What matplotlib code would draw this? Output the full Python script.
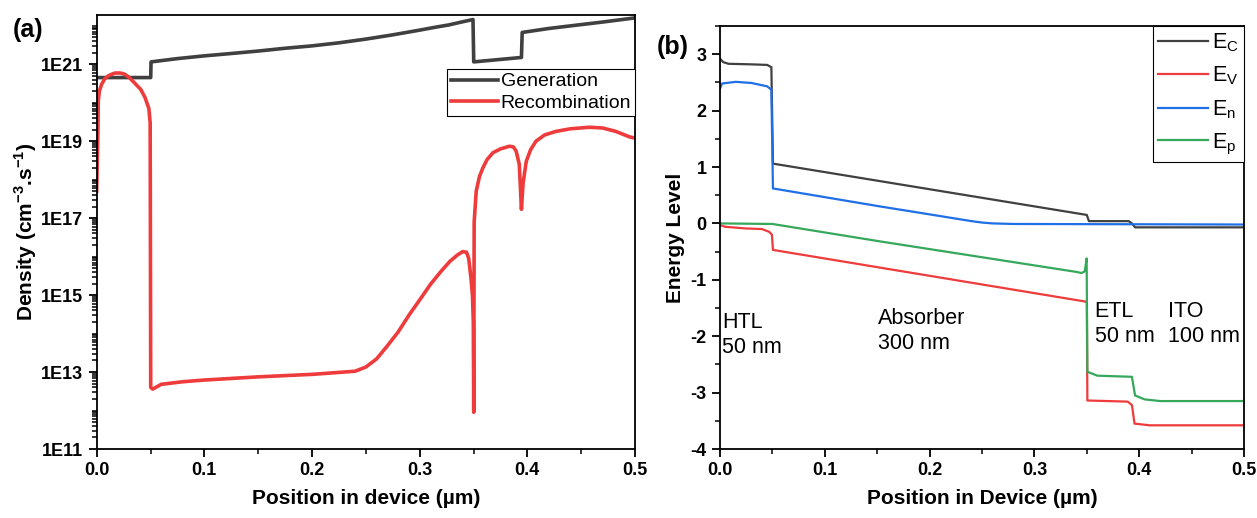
import numpy as np
from matplotlib import pyplot as plt, ticker

plt.rcParams['font.family'] = ['Liberation Sans', 'DejaVu Sans']
plt.rcParams['mathtext.fontset'] = 'custom'
plt.rcParams['mathtext.rm'] = 'Liberation Sans'
plt.rcParams['mathtext.bf'] = 'Liberation Sans:bold'

# ---- panel (a): generation / recombination (cm^-3 s^-1) ----
gen_x = [0.0, 0.0502, 0.0505, 0.075, 0.1, 0.125, 0.15, 0.175, 0.2, 0.225, 0.25, 0.275,
         0.3, 0.315, 0.327, 0.34, 0.3495,
         0.3502, 0.3945, 0.3952, 0.42, 0.441, 0.47, 0.5]
gen_y = [4.5e20, 4.5e20, 1.15e21, 1.4e21, 1.65e21, 1.9e21, 2.2e21, 2.6e21, 3.0e21, 3.6e21, 4.5e21, 5.8e21,
         7.7e21, 9.2e21, 1.05e22, 1.27e22, 1.45e22,
         1.15e21, 1.5e21, 6.7e21, 8.5e21, 1.0e22, 1.25e22, 1.6e22]

rec_x = [0.0, 0.0012, 0.0015, 0.0025, 0.0046, 0.0075, 0.011, 0.014, 0.017, 0.022, 0.026,
         0.03, 0.035, 0.041, 0.045, 0.0485, 0.0497, 0.0502, 0.052, 0.06, 0.08, 0.1, 0.15,
         0.2, 0.24, 0.25, 0.26, 0.27, 0.28, 0.29, 0.3, 0.31, 0.32, 0.328, 0.335, 0.34,
         0.3435, 0.3455, 0.3475, 0.349, 0.3498, 0.3502, 0.3506, 0.3525, 0.3555, 0.3586,
         0.3625, 0.368, 0.375, 0.3834, 0.387, 0.3896, 0.3925, 0.3945, 0.396, 0.399,
         0.403, 0.408, 0.416, 0.4267, 0.44, 0.4577, 0.47, 0.482, 0.4947, 0.5]
rec_y = [5e17, 2.2e19, 1.1e20, 2e20, 3e20, 4.2e20, 5e20, 5.5e20, 5.9e20, 5.9e20, 5.5e20,
         4.6e20, 3.3e20, 2.2e20, 1.35e20, 7e19, 3e19, 4e12, 3.6e12, 4.8e12, 5.6e12, 6.2e12, 7.5e12,
         8.7e12, 1.05e13, 1.35e13, 2.2e13, 4.8e13, 1.1e14, 3e14, 7.5e14, 1.9e15, 4.2e15, 7.5e15, 1.1e16, 1.35e16,
         1.3e16, 9e15, 3e15, 1e15, 2e14, 9e11, 8e16, 5e17, 1.2e18, 2e18,
         3.3e18, 5e18, 6.3e18, 7.4e18, 7.1e18, 5.5e18, 2.5e18, 1.7e17, 8e17, 3e18,
         6e18, 1e19, 1.45e19, 1.8e19, 2.1e19, 2.3e19, 2.2e19, 1.8e19, 1.3e19, 1.2e19]

# ---- panel (b): energy levels ----
ec_x = [0.0, 0.003, 0.008, 0.03, 0.045, 0.049, 0.0505, 0.35, 0.3505, 0.352, 0.39, 0.393, 0.396, 0.5]
ec_y = [2.92, 2.86, 2.83, 2.82, 2.81, 2.77, 1.06, 0.15, 0.12, 0.04, 0.04, 0.0, -0.07, -0.07]

ev_x = [0.0, 0.005, 0.025, 0.04, 0.047, 0.0495, 0.0505, 0.35, 0.3505, 0.389, 0.393, 0.3955, 0.41, 0.5]
ev_y = [-0.03, -0.06, -0.09, -0.1, -0.15, -0.2, -0.47, -1.39, -3.14, -3.16, -3.22, -3.55, -3.58, -3.58]

en_x = [0.0, 0.002, 0.015, 0.03, 0.045, 0.049, 0.0505, 0.153, 0.2, 0.23, 0.24, 0.25, 0.26, 0.28, 0.5]
en_y = [2.39, 2.48, 2.51, 2.49, 2.43, 2.37, 0.62, 0.30, 0.16, 0.07, 0.04, 0.015, 0.0, -0.01, -0.02]

ep_x = [0.0, 0.05, 0.153, 0.34, 0.345, 0.348, 0.3498, 0.3505, 0.36, 0.393, 0.396, 0.405, 0.42, 0.5]
ep_y = [0.0, -0.01, -0.32, -0.86, -0.88, -0.85, -0.62, -2.63, -2.70, -2.72, -3.05, -3.12, -3.15, -3.15]

layer_names = ['HTL', 'Absorber', 'ETL', 'ITO']
layer_thick = ['50 nm', '300 nm', '50 nm', '100 nm']

GRAY = '#404040'
RED = '#ee3b3b'
BLUE = '#1f6fe6'
GREEN = '#36a85c'


def style_axes(ax):
    for sp in ax.spines.values():
        sp.set_linewidth(1.3)
    ax.tick_params(which='major', direction='out', length=6, width=1.3, labelsize=13)
    ax.tick_params(which='minor', direction='out', length=3.5, width=1.1)
    for lab in ax.get_xticklabels() + ax.get_yticklabels():
        lab.set_fontweight('bold')


fig = plt.figure(figsize=(12.57, 5.18), dpi=100)

# (a)
ax1 = fig.add_axes([0.0769, 0.1332, 0.4283, 0.8378])
ax1.semilogy(gen_x, gen_y, color=GRAY, lw=2.6, label='Generation')
ax1.semilogy(rec_x, rec_y, color=RED, lw=2.6, label='Recombination')
ax1.set_xlim(0, 0.5)
ax1.set_ylim(1e11, 1.9e22)
ax1.xaxis.set_major_locator(ticker.MultipleLocator(0.1))
ax1.xaxis.set_minor_locator(ticker.MultipleLocator(0.05))
ax1.xaxis.set_major_formatter(ticker.FormatStrFormatter('%.1f'))
ax1.yaxis.set_major_locator(ticker.FixedLocator([1e11, 1e13, 1e15, 1e17, 1e19, 1e21]))
ax1.yaxis.set_minor_locator(ticker.LogLocator(base=10, subs=np.arange(1, 10), numticks=40))
ax1.yaxis.set_major_formatter(ticker.FuncFormatter(lambda v, _: f'1E{int(round(np.log10(v)))}'))
ax1.yaxis.set_minor_formatter(ticker.NullFormatter())
style_axes(ax1)
ax1.set_xlabel('Position in device (µm)', fontsize=15, fontweight='bold', labelpad=7)
ax1.set_ylabel(r'Density (cm$^{\mathbf{-3}}$.s$^{\mathbf{-1}}$)', fontsize=15, fontweight='bold', labelpad=2)
leg1 = ax1.legend(loc='upper right', bbox_to_anchor=(1.0, 0.876), borderaxespad=0, fontsize=14,
                  handlelength=2.4, handletextpad=0.15, labelspacing=0.2, borderpad=0.2,
                  fancybox=False, framealpha=1, edgecolor='black')
leg1.get_frame().set_linewidth(0.8)
for xp, yp, name, th in zip([0.002, 0.130, 0.353, 0.423], [0.018, 0.018, 0.035, 0.035],
                            layer_names, layer_thick):
    ax1.text(xp, yp, f'{name}\n{th}', transform=ax1.get_yaxis_transform(), ha='left', va='bottom',
             fontsize=15.5, linespacing=1.25)
fig.text(0.022, 0.942, '(a)', fontsize=18, fontweight='bold', ha='center', va='center')

# (b)
ax2 = fig.add_axes([0.5728, 0.1332, 0.4169, 0.8166])
ax2.plot(ec_x, ec_y, color=GRAY, lw=1.6, label=r'E$_\mathregular{C}$')
ax2.plot(ev_x, ev_y, color=RED, lw=1.6, label=r'E$_\mathregular{V}$')
ax2.plot(en_x, en_y, color=BLUE, lw=1.6, label=r'E$_\mathregular{n}$')
ax2.plot(ep_x, ep_y, color=GREEN, lw=1.6, label=r'E$_\mathregular{p}$')
ax2.set_xlim(0, 0.5)
ax2.set_ylim(-4, 3.5)
ax2.xaxis.set_major_locator(ticker.MultipleLocator(0.1))
ax2.xaxis.set_minor_locator(ticker.MultipleLocator(0.05))
ax2.xaxis.set_major_formatter(ticker.FormatStrFormatter('%.1f'))
ax2.yaxis.set_major_locator(ticker.MultipleLocator(1))
ax2.yaxis.set_minor_locator(ticker.MultipleLocator(0.5))
ax2.yaxis.set_major_formatter(ticker.FuncFormatter(lambda v, _: f'{v:.0f}'.replace('\u2212', '-')))
style_axes(ax2)
ax2.set_xlabel('Position in Device (µm)', fontsize=15, fontweight='bold', labelpad=7)
ax2.set_ylabel('Energy Level', fontsize=15, fontweight='bold', labelpad=4)
leg2 = ax2.legend(loc='upper right', bbox_to_anchor=(1.0, 1.0), borderaxespad=0, fontsize=15.5,
                  handlelength=2.3, handletextpad=0.2, labelspacing=0.5, borderpad=0.25,
                  fancybox=False, framealpha=1, edgecolor='black')
leg2.get_frame().set_linewidth(0.8)
for xp, yp, name, th in zip([0.002, 0.151, 0.3575, 0.427], [-2.39, -2.31, -2.2, -2.2],
                            layer_names, layer_thick):
    ax2.text(xp, yp, f'{name}\n{th}', ha='left', va='bottom', fontsize=15.5, linespacing=1.25)
fig.text(0.535, 0.909, '(b)', fontsize=18, fontweight='bold', ha='center', va='center')

fig.savefig('out.png', dpi=100)
